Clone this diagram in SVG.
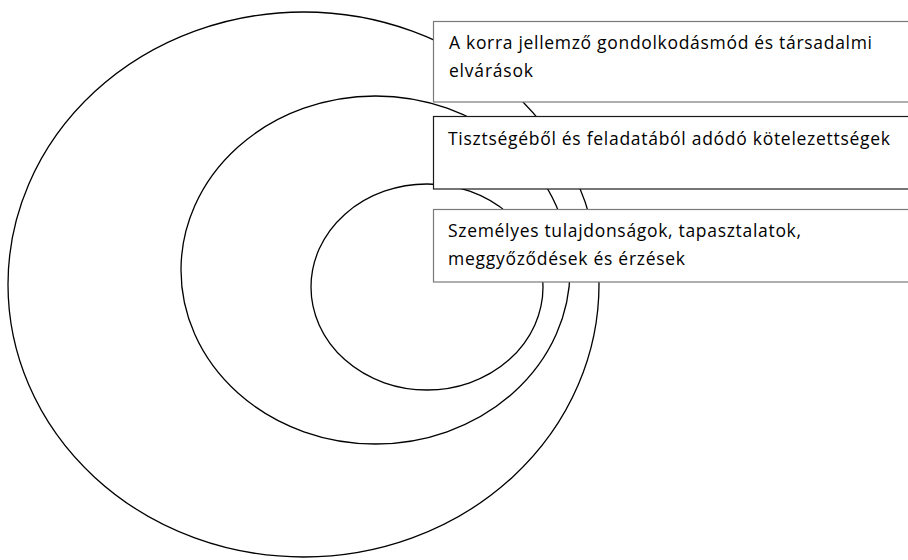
<svg xmlns="http://www.w3.org/2000/svg" width="908" height="560" viewBox="0 0 908 560">
<style>
.ring{fill:none;stroke:#000;stroke-width:1.3}
.box{fill:#fff;stroke-width:1.2}
.lbl{font-family:"Open Sans","Noto Sans","Liberation Sans",sans-serif;font-size:17.5px;fill:#000}
</style>
<rect x="0" y="0" width="908" height="560" fill="#fff"/>
<g id="rings">
<ellipse id="ring-outer" class="ring" cx="303.5" cy="284.5" rx="295.5" ry="272.5"/>
<ellipse id="ring-middle" class="ring" cx="375.5" cy="270" rx="194.5" ry="174"/>
<ellipse id="ring-inner" class="ring" cx="427" cy="287" rx="116" ry="103"/>
</g>
<g id="connectors"></g>
<g id="box-society">
<rect class="box" x="433.5" y="21.5" width="480" height="80.5" stroke="#7a7a7a"/>
<text class="lbl" x="449" y="49" textLength="423" lengthAdjust="spacing">A korra jellemző gondolkodásmód és társadalmi</text>
<text class="lbl" x="449" y="77" textLength="84" lengthAdjust="spacing">elvárások</text>
</g>
<g id="box-duty">
<rect class="box" x="433.5" y="116.5" width="480" height="72.5" stroke="#1a1a1a"/>
<text class="lbl" x="448" y="145" textLength="442" lengthAdjust="spacing">Tisztségéből és feladatából adódó kötelezettségek</text>
</g>
<g id="box-personal">
<rect class="box" x="433.5" y="209.5" width="480" height="72.5" stroke="#7a7a7a"/>
<text class="lbl" x="448" y="237" textLength="353" lengthAdjust="spacing">Személyes tulajdonságok, tapasztalatok,</text>
<text class="lbl" x="448" y="265" textLength="237" lengthAdjust="spacing">meggyőződések és érzések</text>
</g>
</svg>
